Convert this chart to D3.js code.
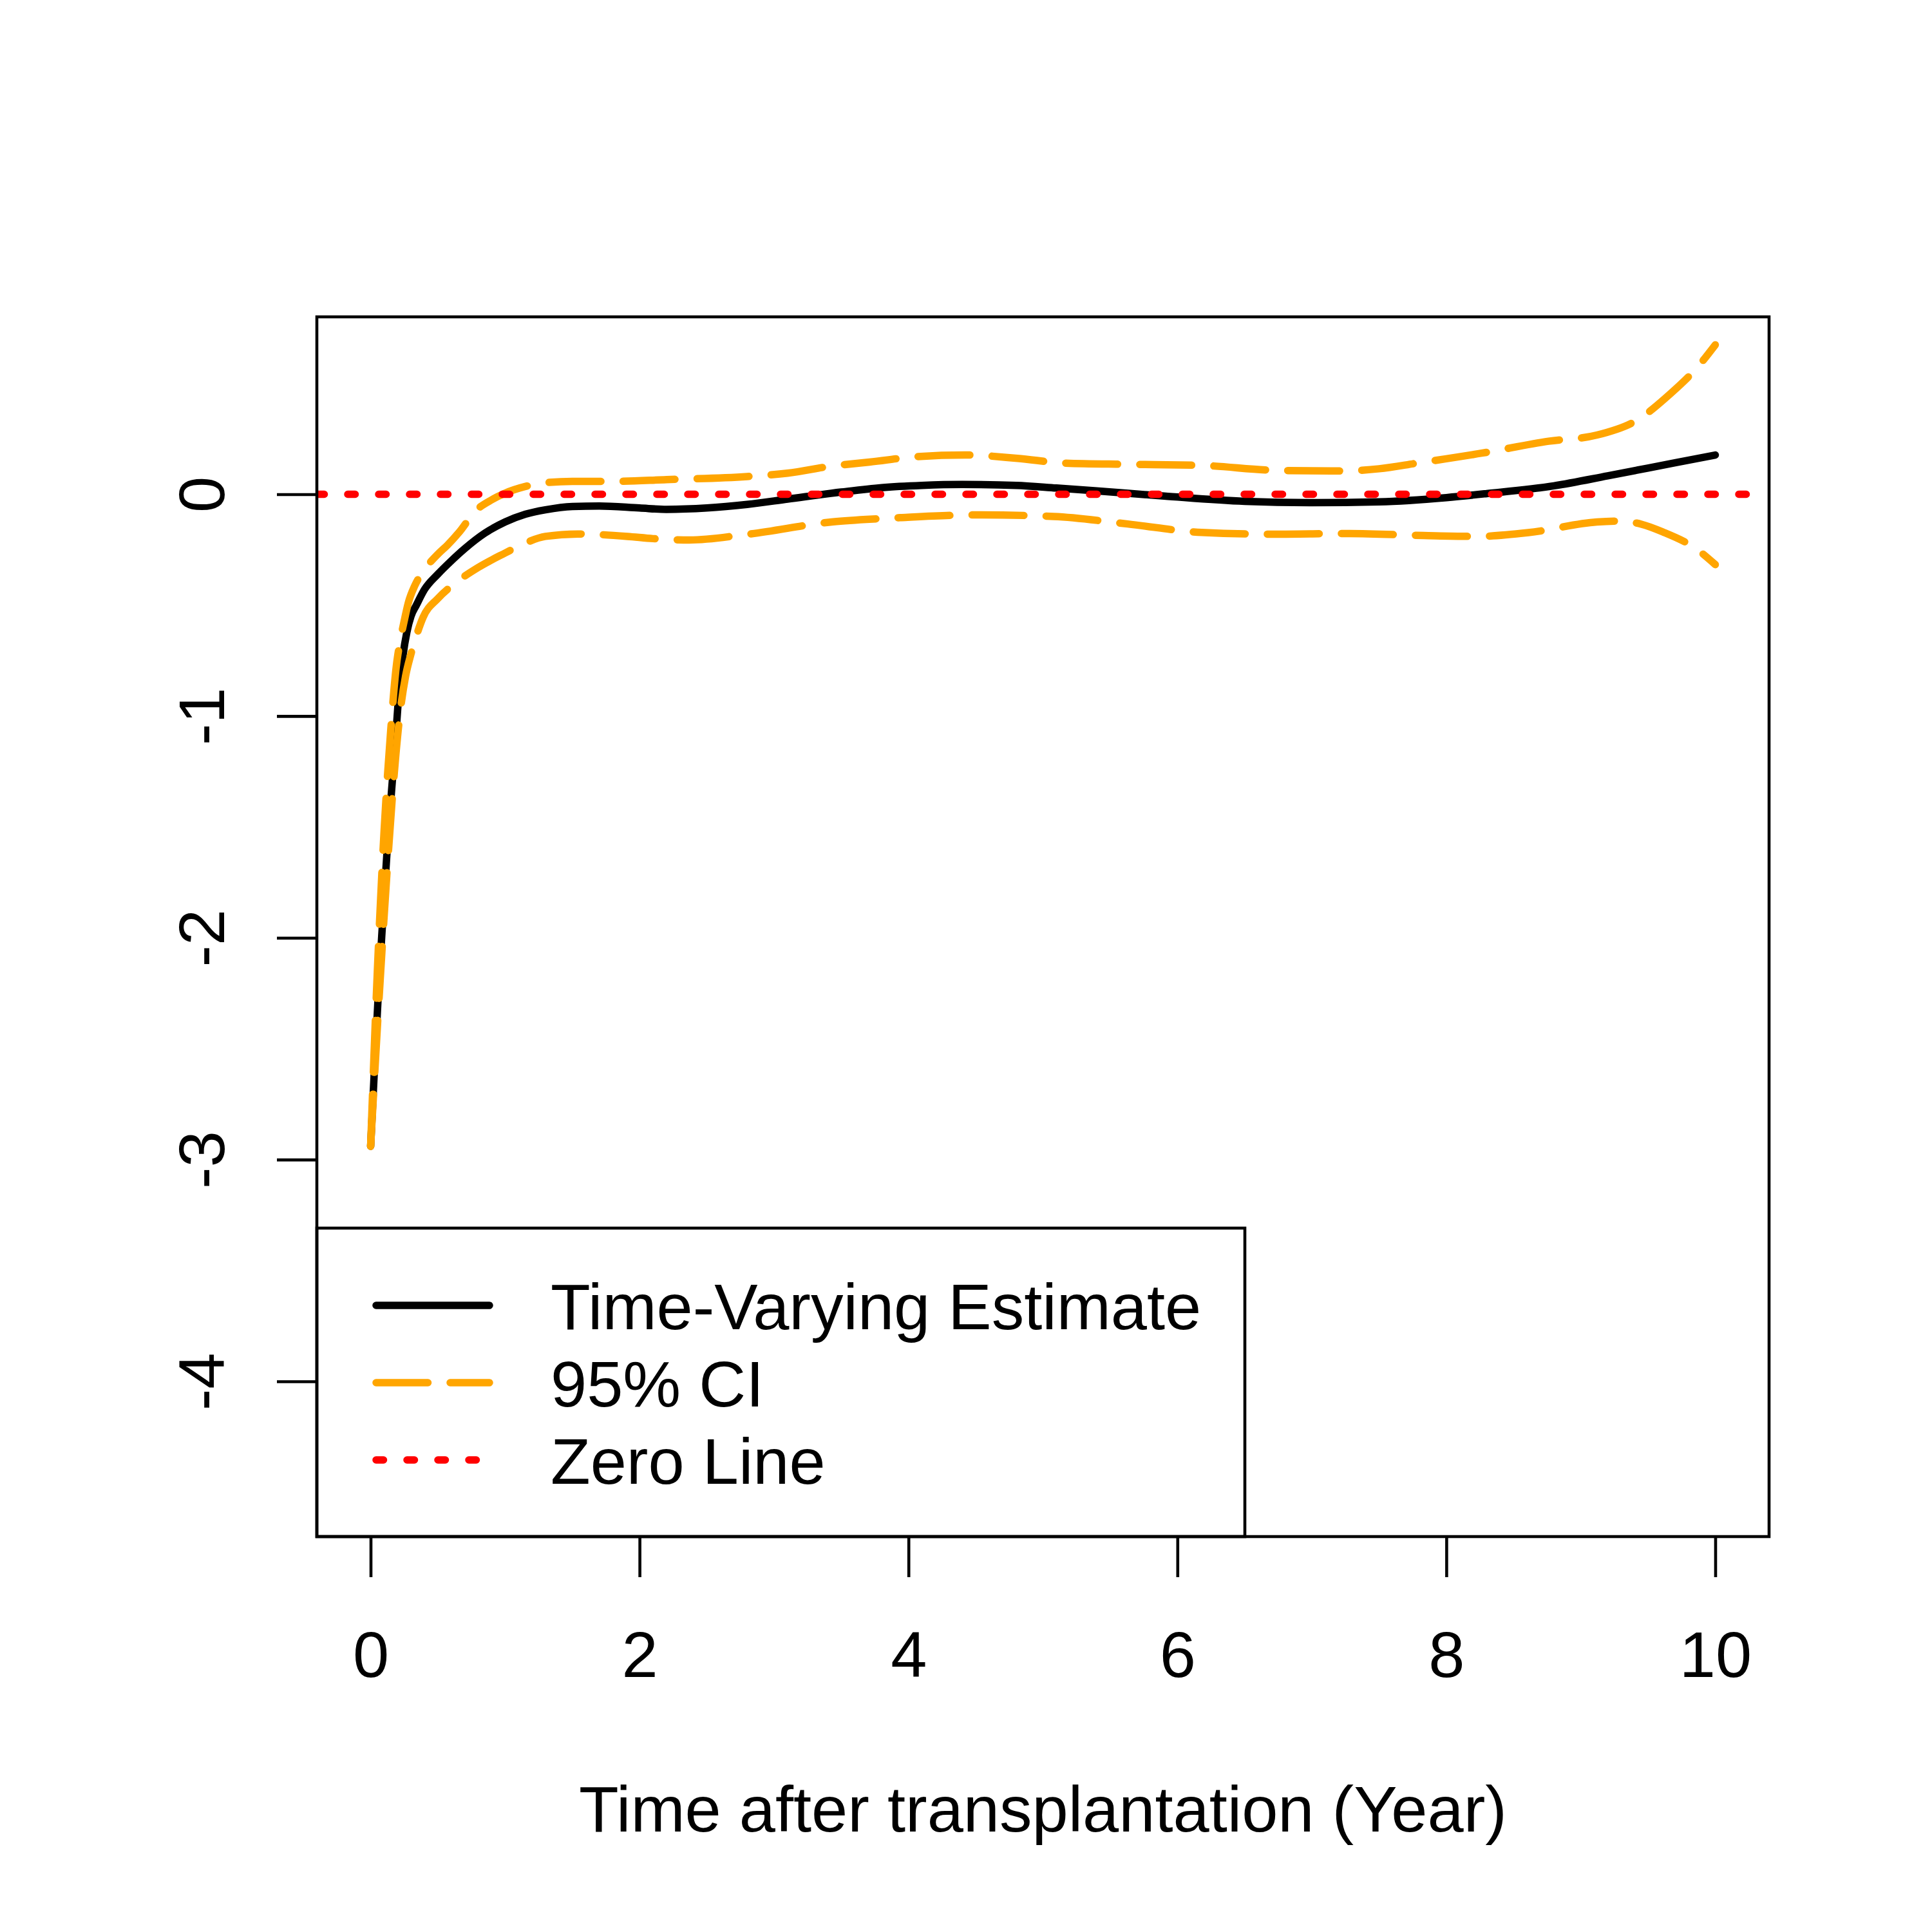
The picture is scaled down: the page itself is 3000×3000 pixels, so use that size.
<!DOCTYPE html>
<html>
<head>
<meta charset="utf-8">
<script src="https://cdn.jsdelivr.net/npm/d3@7"></script>
<style>
  html, body { margin: 0; padding: 0; background: #ffffff; }
  svg { display: block; }
</style>
</head>
<body>
<script>
// ---------- DATA ----------
const estX = [0, 0.03, 0.06, 0.09, 0.12, 0.15, 0.18, 0.21, 0.24, 0.27, 0.30, 0.34, 0.40, 0.50, 0.60, 0.70, 0.85, 1.00, 1.15, 1.30, 1.50, 1.70, 2.00, 2.20, 2.50, 2.80, 3.10, 3.50, 3.80, 4.10, 4.40, 4.80, 5.10, 5.40, 5.90, 6.50, 7.00, 7.50, 8.00, 8.30, 8.80, 9.20, 9.70, 10.00];
const estY = [-2.94, -2.57, -2.22, -1.92, -1.63, -1.38, -1.15, -0.90, -0.73, -0.62, -0.55, -0.50, -0.43, -0.36, -0.30, -0.245, -0.175, -0.125, -0.09, -0.07, -0.055, -0.053, -0.062, -0.068, -0.062, -0.046, -0.022, 0.010, 0.030, 0.040, 0.044, 0.040, 0.028, 0.015, -0.008, -0.032, -0.038, -0.034, -0.015, 0.003, 0.038, 0.083, 0.142, 0.177];

const upX = [0, 0.05, 0.10, 0.15, 0.19, 0.22, 0.25, 0.28, 0.33, 0.40, 0.50, 0.57, 0.66, 0.78, 0.90, 1.00, 1.15, 1.30, 1.50, 1.80, 2.20, 2.80, 3.10, 3.44, 3.71, 4.07, 4.42, 4.81, 5.17, 5.63, 6.18, 6.73, 7.20, 7.50, 7.78, 8.27, 8.76, 9.12, 9.42, 9.66, 9.86, 10.00];
const upY = [-2.94, -2.15, -1.52, -1.06, -0.78, -0.66, -0.57, -0.49, -0.41, -0.34, -0.27, -0.23, -0.17, -0.075, -0.025, 0.005, 0.035, 0.052, 0.058, 0.058, 0.066, 0.080, 0.095, 0.128, 0.145, 0.170, 0.177, 0.162, 0.140, 0.135, 0.130, 0.108, 0.105, 0.115, 0.140, 0.186, 0.239, 0.267, 0.335, 0.450, 0.568, 0.674];

const loX = [0, 0.06, 0.12, 0.17, 0.22, 0.26, 0.30, 0.35, 0.39, 0.50, 0.63, 0.80, 1.00, 1.15, 1.30, 1.54, 1.91, 2.10, 2.37, 2.82, 3.44, 3.79, 3.95, 4.53, 5.08, 5.63, 6.18, 6.73, 7.28, 7.83, 8.22, 8.61, 9.12, 9.29, 9.45, 9.61, 9.86, 10.00];
const loY = [-2.94, -2.30, -1.72, -1.30, -0.98, -0.82, -0.72, -0.62, -0.555, -0.47, -0.40, -0.33, -0.265, -0.22, -0.19, -0.179, -0.19, -0.20, -0.206, -0.179, -0.124, -0.110, -0.105, -0.093, -0.100, -0.134, -0.172, -0.180, -0.177, -0.186, -0.190, -0.173, -0.125, -0.121, -0.135, -0.170, -0.247, -0.317];

const xTicks = [0, 2, 4, 6, 8, 10];
const yTicks = [0, -1, -2, -3, -4];
const xDomain = [-0.4, 10.4];
const yDomain = [-4.7, 0.8];
const xTitle = "Time after transplantation (Year)";
const legendLabels = ["Time-Varying Estimate", "95% CI", "Zero Line"];
const zeroValue = 0;

// ---------- LAYOUT ----------
const W = 3000, H = 3000;
const L = 492, R = 2747, T = 492, B = 2386;
const FONT = "'Liberation Sans', Arial, Helvetica, sans-serif";
const FS = 101;
const ORANGE = "#FFA500", RED = "#FF0000";
const LW = 11.5, AXW = 4.6;

const svg = d3.select("body").append("svg")
  .attr("width", W).attr("height", H)
  .attr("viewBox", `0 0 ${W} ${H}`);
svg.append("rect").attr("width", W).attr("height", H).attr("fill", "#fff");

const x = d3.scaleLinear().domain(xDomain).range([L, R]);
const y = d3.scaleLinear().domain(yDomain).range([B, T]);

svg.append("defs").append("clipPath").attr("id", "clip")
  .append("rect").attr("x", L).attr("y", T).attr("width", R - L).attr("height", B - T);

const plot = svg.append("g").attr("clip-path", "url(#clip)");

const line = d3.line().x(d => x(d[0])).y(d => y(d[1])).curve(d3.curveMonotoneX);

const series = [
  { xs: upX, ys: upY, color: ORANGE, dash: "80.5 34.5" },
  { xs: loX, ys: loY, color: ORANGE, dash: "80.5 34.5" },
  { xs: estX, ys: estY, color: "#000", dash: null }
];

// estimate first (drawn below CI lines as in reference)
[series[2], series[0], series[1]].forEach(s => {
  plot.append("path")
    .datum(s.xs.map((v, i) => [v, s.ys[i]]))
    .attr("d", line)
    .attr("fill", "none")
    .attr("stroke", s.color)
    .attr("stroke-width", LW)
    .attr("stroke-linecap", "round")
    .attr("stroke-linejoin", "round")
    .attr("stroke-dasharray", s.dash);
});

// zero line
plot.append("line")
  .attr("x1", x(xDomain[0])).attr("x2", x(xDomain[1]))
  .attr("y1", y(zeroValue)).attr("y2", y(zeroValue))
  .attr("stroke", RED).attr("stroke-width", LW)
  .attr("stroke-linecap", "round")
  .attr("stroke-dasharray", "11.5 36.5");

// ---------- AXES ----------
const xAxis = svg.append("g")
  .attr("transform", `translate(0,${B})`)
  .call(d3.axisBottom(x).tickValues(xTicks).tickSize(63).tickFormat(d3.format("d")));
xAxis.select(".domain").remove();
xAxis.selectAll(".tick line").attr("stroke", "#000").attr("stroke-width", AXW);
xAxis.selectAll(".tick text")
  .attr("y", 2604 - B).attr("dy", 0)
  .attr("fill", "#000")
  .style("font-family", FONT).style("font-size", FS + "px");

const yAxis = svg.append("g")
  .attr("transform", `translate(${L},0)`)
  .call(d3.axisLeft(y).tickValues(yTicks).tickSize(62).tickFormat(d => String(d)));
yAxis.select(".domain").remove();
yAxis.selectAll(".tick line").attr("stroke", "#000").attr("stroke-width", AXW);
yAxis.selectAll(".tick text")
  .attr("x", 0).attr("dy", 0)
  .attr("text-anchor", "middle")
  .attr("transform", `translate(${348 - L},0) rotate(-90)`)
  .attr("fill", "#000")
  .style("font-family", FONT).style("font-size", FS + "px");

// plot frame
svg.append("rect")
  .attr("x", L).attr("y", T).attr("width", R - L).attr("height", B - T)
  .attr("fill", "none").attr("stroke", "#000").attr("stroke-width", AXW);

// axis title
svg.append("text")
  .attr("x", (L + R) / 2).attr("y", 2844)
  .attr("text-anchor", "middle")
  .style("font-family", FONT).style("font-size", FS + "px")
  .attr("fill", "#000")
  .text(xTitle);

// ---------- LEGEND ----------
const legX = L, legY = 1907, legW = 1933 - L, legH = B - 1907;
const leg = svg.append("g");
leg.append("rect")
  .attr("x", legX).attr("y", legY).attr("width", legW).attr("height", legH)
  .attr("fill", "none").attr("stroke", "#000").attr("stroke-width", AXW);

const legRows = [2027, 2147, 2267];
const legStyles = [
  { color: "#000", dash: null },
  { color: ORANGE, dash: "80.5 34.5" },
  { color: RED, dash: "11.5 36.5" }
];
legendLabels.forEach((lab, i) => {
  leg.append("line")
    .attr("x1", 584).attr("x2", 760)
    .attr("y1", legRows[i]).attr("y2", legRows[i])
    .attr("stroke", legStyles[i].color).attr("stroke-width", LW)
    .attr("stroke-linecap", "round")
    .attr("stroke-dasharray", legStyles[i].dash);
  leg.append("text")
    .attr("x", 855).attr("y", legRows[i] + 37)
    .style("font-family", FONT).style("font-size", FS + "px")
    .attr("fill", "#000")
    .text(lab);
});
</script>
</body>
</html>
